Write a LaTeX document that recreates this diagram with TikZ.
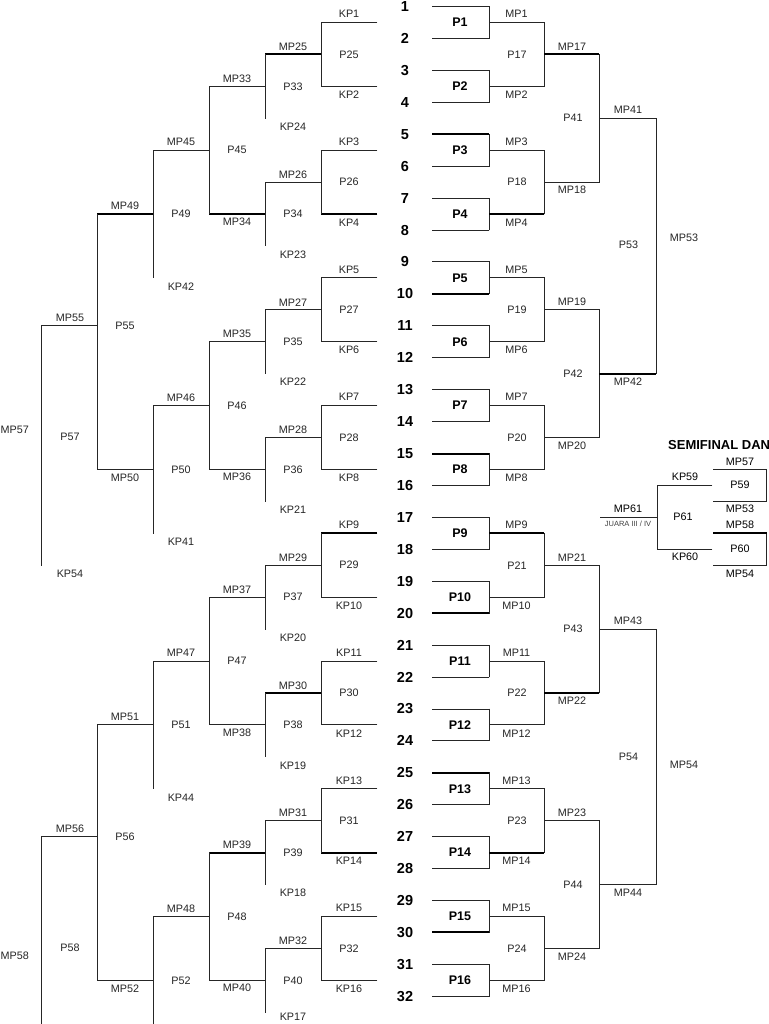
\documentclass[tikz,border=0pt]{standalone}
\usepackage{fontspec}
\setmainfont{Liberation Sans}
\begin{document}
\tikzset{
 ln/.style={draw=black!85, line width=0.9pt, line cap=rect},
 thk/.style={draw=black, line width=2pt},
 lbl/.style={inner sep=0, text=black!85, font=\fontsize{10.8}{12}\selectfont},
 plbl/.style={inner sep=0, text=black, font=\bfseries\fontsize{12.5}{14}\selectfont},
 numlbl/.style={inner sep=0, text=black, font=\bfseries\fontsize{14.5}{16}\selectfont},
 tiny/.style={inner sep=0, text=black!75, font=\fontsize{7.5}{8}\selectfont},
 ttl/.style={inner sep=0, text=black, font=\bfseries\fontsize{13}{15}\selectfont},
}
\begin{tikzpicture}[x=1pt,y=-1pt]
\useasboundingbox (0,0) rectangle (768,1024);
\fill[white] (0,0) rectangle (768,1024);
\def\u{31.93}
% ---------- right bracket: entries ----------
\foreach \k in {1,...,32}{
  \pgfmathsetmacro\yy{6.5+(\k-1)*\u}
  \node[numlbl] (n\k) at (405,\yy) {\k};
  \draw[ln] (432,\yy) -- (489,\yy);
}
\foreach \k in {5,10,15,20,25,30}{
  \pgfmathsetmacro\yy{6.5+(\k-1)*\u}
  \draw[thk] (432,\yy) -- (489,\yy);
}
% round 1
\foreach \i in {1,...,16}{
  \pgfmathsetmacro\ya{6.5+(2*\i-2)*\u}
  \pgfmathsetmacro\yb{6.5+(2*\i-1)*\u}
  \pgfmathsetmacro\ym{6.5+(2*\i-1.5)*\u}
  \pgfmathsetmacro\yl{\ym-8.5*(2*mod(\i,2)-1)}
  \draw[ln] (489,\ya) -- (489,\yb);
  \draw[ln] (489,\ym) -- (544,\ym);
  \node[plbl] (p\i) at (460,\ym) {P\i};
  \node[lbl] (mp\i) at (516.5,\yl) {MP\i};
}
\foreach \i in {4,9,14}{
  \pgfmathsetmacro\ym{6.5+(2*\i-1.5)*\u}
  \draw[thk] (489,\ym) -- (544,\ym);
}
% round 2
\foreach \i in {1,...,8}{
  \pgfmathsetmacro\ya{6.5+(4*\i-3.5)*\u}
  \pgfmathsetmacro\yb{6.5+(4*\i-1.5)*\u}
  \pgfmathsetmacro\ym{6.5+(4*\i-2.5)*\u}
  \pgfmathsetmacro\yl{\ym-8*(2*mod(\i,2)-1)}
  \pgfmathtruncatemacro\pn{16+\i}
  \draw[ln] (544,\ya) -- (544,\yb);
  \draw[ln] (544,\ym) -- (599,\ym);
  \node[lbl] (p\pn) at (517,\ym) {P\pn};
  \node[lbl] (mp\pn) at (572,\yl) {MP\pn};
}
\foreach \i in {1,6}{
  \pgfmathsetmacro\ym{6.5+(4*\i-2.5)*\u}
  \draw[thk] (544,\ym) -- (599,\ym);
}
% round 3
\foreach \i in {1,...,4}{
  \pgfmathsetmacro\ya{6.5+(8*\i-6.5)*\u}
  \pgfmathsetmacro\yb{6.5+(8*\i-2.5)*\u}
  \pgfmathsetmacro\ym{6.5+(8*\i-4.5)*\u}
  \pgfmathsetmacro\yl{\ym-8*(2*mod(\i,2)-1)}
  \pgfmathtruncatemacro\pn{40+\i}
  \draw[ln] (599,\ya) -- (599,\yb);
  \draw[ln] (599,\ym) -- (656,\ym);
  \node[lbl] (p\pn) at (573,\ym) {P\pn};
  \node[lbl] (mp\pn) at (628,\yl) {MP\pn};
}
\pgfmathsetmacro\ym{6.5+(16-4.5)*\u}
\draw[thk] (599,\ym) -- (656,\ym);
% round 4
\draw[ln] (656,{6.5+3.5*\u}) -- (656,{6.5+11.5*\u});
\draw[ln] (656,{6.5+19.5*\u}) -- (656,{6.5+27.5*\u});
\node[lbl] (p53) at (628.5,245) {P53};
\node[lbl] (mp53) at (684,238) {MP53};
\node[lbl] (p54) at (628.5,757) {P54};
\node[lbl] (mp54) at (684,765) {MP54};
% ---------- left bracket ----------
\foreach \j in {1,...,16}{
  \pgfmathsetmacro\ym{6.5+(2*\j-1.5)*\u}
  \pgfmathsetmacro\yl{\ym-8.5*(2*mod(\j,2)-1)}
  \draw[ln] (321,\ym) -- (377,\ym);
  \node[lbl] (kp\j) at (349,\yl) {KP\j};
}
\foreach \j in {4,9,14}{
  \pgfmathsetmacro\ym{6.5+(2*\j-1.5)*\u}
  \draw[thk] (321,\ym) -- (377,\ym);
}
% P25-P32
\foreach \i in {1,...,8}{
  \pgfmathsetmacro\ya{6.5+(4*\i-3.5)*\u}
  \pgfmathsetmacro\yb{6.5+(4*\i-1.5)*\u}
  \pgfmathsetmacro\ym{6.5+(4*\i-2.5)*\u}
  \pgfmathtruncatemacro\pn{24+\i}
  \draw[ln] (321,\ya) -- (321,\yb);
  \draw[ln] (321,\ym) -- (265,\ym);
  \node[lbl] (p\pn) at (349,\ym) {P\pn};
  \node[lbl] (mp\pn) at (293,\ym-7.5) {MP\pn};
}
\foreach \i in {1,6}{
  \pgfmathsetmacro\ym{6.5+(4*\i-2.5)*\u}
  \draw[thk] (321,\ym) -- (265,\ym);
}
% P33-P40
\foreach \i in {1,...,8}{
  \pgfmathsetmacro\ya{6.5+(4*\i-2.5)*\u}
  \pgfmathsetmacro\yb{6.5+(4*\i-0.5)*\u}
  \pgfmathsetmacro\ym{6.5+(4*\i-1.5)*\u}
  \pgfmathsetmacro\yl{\ym-7.5*(2*mod(\i,2)-1)}
  \pgfmathsetmacro\yk{min(\yb+8.5,1016.5)}
  \pgfmathtruncatemacro\pn{32+\i}
  \pgfmathtruncatemacro\kn{25-\i}
  \draw[ln] (265,\ya) -- (265,\yb);
  \draw[ln] (265,\ym) -- (209,\ym);
  \node[lbl] (p\pn) at (293,\ym) {P\pn};
  \node[lbl] (mp\pn) at (237,\yl) {MP\pn};
  \node[lbl] (kp\kn) at (293,\yk) {KP\kn};
}
\foreach \i in {2,7}{
  \pgfmathsetmacro\ym{6.5+(4*\i-1.5)*\u}
  \draw[thk] (265,\ym) -- (209,\ym);
}
% P45-P48
\foreach \i in {1,...,4}{
  \pgfmathsetmacro\ya{6.5+(8*\i-5.5)*\u}
  \pgfmathsetmacro\yb{6.5+(8*\i-1.5)*\u}
  \pgfmathsetmacro\ym{6.5+(8*\i-3.5)*\u}
  \pgfmathtruncatemacro\pn{44+\i}
  \draw[ln] (209,\ya) -- (209,\yb);
  \draw[ln] (209,\ym) -- (153,\ym);
  \node[lbl] (p\pn) at (237,\ym) {P\pn};
  \node[lbl] (mp\pn) at (181,\ym-8) {MP\pn};
}
% P49-P52
\foreach \i/\kn in {1/42,2/41,3/44}{
  \pgfmathsetmacro\yb{6.5+(8*\i+0.5)*\u}
  \node[lbl] (kp\kn) at (181,\yb+8.5) {KP\kn};
}
\foreach \i in {1,...,4}{
  \pgfmathsetmacro\ya{6.5+(8*\i-3.5)*\u}
  \pgfmathsetmacro\yb{6.5+(8*\i+0.5)*\u}
  \pgfmathsetmacro\ym{6.5+(8*\i-1.5)*\u}
  \pgfmathsetmacro\yl{\ym-8*(2*mod(\i,2)-1)}
  \pgfmathtruncatemacro\pn{48+\i}
  \draw[ln] (153,\ya) -- (153,\yb);
  \draw[ln] (153,\ym) -- (97,\ym);
  \node[lbl] (p\pn) at (181,\ym) {P\pn};
  \node[lbl] (mp\pn) at (125,\yl) {MP\pn};
}
\pgfmathsetmacro\ym{6.5+6.5*\u}
\draw[thk] (153,\ym) -- (97,\ym);
% P55, P56
\draw[ln] (97,{6.5+6.5*\u}) -- (97,{6.5+14.5*\u});
\draw[ln] (97,{6.5+10*\u}) -- (41,{6.5+10*\u});
\node[lbl] (p55) at (125,{6.5+10*\u}) {P55};
\node[lbl] (mp55) at (70,{6.5+10*\u-8}) {MP55};
\draw[ln] (97,{6.5+22.5*\u}) -- (97,{6.5+30.5*\u});
\draw[ln] (97,{6.5+26*\u}) -- (41,{6.5+26*\u});
\node[lbl] (p56) at (125,{6.5+26*\u}) {P56};
\node[lbl] (mp56) at (70,{6.5+26*\u-8}) {MP56};
% P57, P58
\draw[ln] (41,{6.5+10*\u}) -- (41,{6.5+17.5*\u});
\node[lbl] (kp54) at (70,574) {KP54};
\node[lbl] (p57) at (70,437) {P57};
\node[lbl,anchor=west] (mp57) at (0.5,430) {MP57};
\draw[ln] (41,{6.5+26*\u}) -- (41,1030);
\node[lbl] (p58) at (70,948) {P58};
\node[lbl,anchor=west] (mp58) at (0.5,956) {MP58};
% ---------- semifinal ----------
\node[ttl,anchor=west] (sf) at (668,445) {SEMIFINAL DAN};
\draw[ln] (713,469) -- (766.5,469) -- (766.5,501) -- (713,501);
\node[lbl,text=black] (smp57) at (740,461.5) {MP57};
\node[lbl,text=black] (p59) at (740,485) {P59};
\node[lbl,text=black] (smp53) at (740,509) {MP53};
\draw[ln] (713,533) -- (766.5,533) -- (766.5,565) -- (713,565);
\draw[thk] (713,533) -- (767,533);
\node[lbl,text=black] (smp58) at (740,525) {MP58};
\node[lbl,text=black] (p60) at (740,549) {P60};
\node[lbl,text=black] (smp54) at (740,573.5) {MP54};
\draw[ln] (712,485) -- (657,485) -- (657,549) -- (712,549);
\node[lbl,text=black] (kp59) at (685,477) {KP59};
\node[lbl,text=black] (kp60) at (685,557) {KP60};
\node[lbl,text=black] (p61) at (683,517) {P61};
\draw[ln] (600,517) -- (657,517);
\node[lbl,text=black] (mp61) at (628,508.5) {MP61};
\node[tiny] (juara) at (628,524) {JUARA III / IV};
\end{tikzpicture}
\end{document}
